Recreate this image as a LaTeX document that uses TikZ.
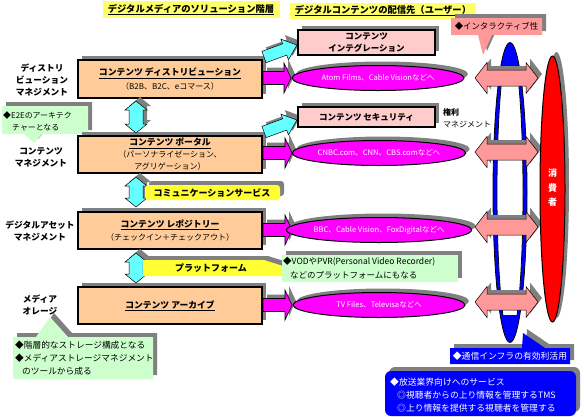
\documentclass[tikz,border=0pt]{standalone}
\usepackage{fontspec}
\setmainfont{Noto Sans CJK JP}
\usetikzlibrary{shapes.geometric,shadows}
\definecolor{shgray}{HTML}{808080}
\definecolor{peach}{HTML}{FFCC99}
\definecolor{pinkbox}{HTML}{FFCCCC}
\definecolor{salmon}{HTML}{FF9999}
\definecolor{lcyan}{HTML}{66FFFF}
\definecolor{mag}{HTML}{FF00FF}
\definecolor{lgreen}{HTML}{CCFFCC}
\definecolor{ylw}{HTML}{FFFF33}
\definecolor{ttlyel}{HTML}{FFFF66}
\definecolor{pureblue}{HTML}{0000FF}
\definecolor{purered}{HTML}{FF0000}
\newcommand\fz[2]{\fontsize{#1}{#2}\selectfont}
\newcommand\bt[1]{\underline{\fz{8.8}{12}\textbf{#1}}}
% right arrow: style, x0, xtip, y, bodyhalf, headhalf, headlen
\newcommand\RArrow[7]{\path[#1] (#2,#4-#5) -- (#3-#7,#4-#5) -- (#3-#7,#4-#6) -- (#3,#4) -- (#3-#7,#4+#6) -- (#3-#7,#4+#5) -- (#2,#4+#5) -- cycle;}
% horizontal double arrow
\newcommand\DArrow[7]{\path[#1] (#2,#4) -- (#2+#7,#4-#6) -- (#2+#7,#4-#5) -- (#3-#7,#4-#5) -- (#3-#7,#4-#6) -- (#3,#4) -- (#3-#7,#4+#6) -- (#3-#7,#4+#5) -- (#2+#7,#4+#5) -- (#2+#7,#4+#6) -- cycle;}
% vertical double arrow: style, y0, y1, x, bodyhalf, headhalf, headlen
\newcommand\VArrow[7]{\path[#1] (#4,#2) -- (#4+#6,#2+#7) -- (#4+#5,#2+#7) -- (#4+#5,#3-#7) -- (#4+#6,#3-#7) -- (#4,#3) -- (#4-#6,#3-#7) -- (#4-#5,#3-#7) -- (#4-#5,#2+#7) -- (#4-#6,#2+#7) -- cycle;}
\begin{document}
\begin{tikzpicture}[x=1pt,y=-1pt,
  shad/.style={drop shadow={shadow xshift=4pt, shadow yshift=4pt, opacity=1, fill=shgray}},
  mainbox/.style={draw=black, line width=1.4pt, fill=peach, shad, minimum width=184pt, minimum height=37pt, inner sep=0pt, align=center, font=\fz{8}{12}},
  pbox/.style={draw=black, line width=1.2pt, fill=pinkbox, shad, minimum width=137pt, inner sep=0pt, align=center, font=\fz{8.5}{12.5}\bfseries},
  mell/.style={ellipse, draw=black, line width=1pt, fill=mag, shad, minimum width=172pt, minimum height=25pt, inner sep=0pt, text=white, font=\fz{7.6}{9}},
  lbl/.style={align=center, inner sep=0pt, font=\fz{8.7}{12}\bfseries},
  ctxt/.style={anchor=west, inner sep=0pt, font=\fz{8.5}{10}},
  wtxt/.style={anchor=west, inner sep=0pt, text=white, font=\fz{8.8}{10}},
  ttl/.style={inner sep=0pt, font=\fz{9.3}{11}},
  cyarr/.style={fill=lcyan, draw=black, line width=0.5pt},
  magarr/.style={fill=mag, draw=black, line width=0.6pt, shad},
  pkarr/.style={fill=salmon, draw=black, line width=0.5pt, shad},
  greencall/.style={fill=lgreen, shad},
]
\useasboundingbox (0,0) rectangle (584,416);
\fill[white] (0,0) rectangle (584,416);

% titles
\fill[ttlyel] (103,1) rectangle (280,18);
\node[ttl] (t1) at (191,9.5) {\underline{\textbf{デジタルメディアのソリューション階層}}};
\fill[ttlyel] (290,3) rectangle (476,19);
\node[ttl] (t2) at (383,10.5) {\underline{\textbf{デジタルコンテンツの配信先（ユーザー）}}};

% left labels
\node[lbl] (l1) at (42,80) {ディストリ\\ビューション\\マネジメント};
\node[lbl] (l2) at (41,157.5) {コンテンツ\\マネジメント};
\node[lbl] (l3) at (40,231) {デジタルアセット\\マネジメント};
\node[lbl] (l4) at (40,305) {メディア\\オレージ};

% green callouts (left)
\path[greencall] (2,106) -- (88,106) -- (88,134) -- (42,134) -- (34,143) -- (24,134) -- (2,134) -- cycle;
\node[ctxt, font=\fz{7.9}{10}] (e2ea) at (3,115) {◆E2Eのアーキテク};
\node[ctxt, font=\fz{7.9}{10}] (e2eb) at (12,127.5) {チャーとなる};

\path[greencall] (13,337) -- (36,337) -- (50,317) -- (68,337) -- (153,337) -- (153,379) -- (13,379) -- cycle;
\node[ctxt, font=\fz{8.7}{10}] (sa) at (15,345) {◆階層的なストレージ構成となる};
\node[ctxt, font=\fz{8.7}{10}] (sb) at (15,358) {◆メディアストレージマネジメント};
\node[ctxt, font=\fz{8.7}{10}] (sc) at (22,371) {のツールから成る};

% main boxes
\node[mainbox, minimum height=38pt] (b1) at (170,79) {\bt{コンテンツ ディストリビューション}\\[1.5pt]（B2B、B2C、eコマース）};
\node[mainbox] (b2) at (170,154.5) {\bt{コンテンツ ポータル}\\（パーソナライゼーション、\\アグリゲーション）};
\node[mainbox] (b3) at (170,230.5) {\bt{コンテンツ レポジトリー}\\[1pt]（チェックイン＋チェックアウト）};
\node[mainbox] (b4) at (170,305.5) {\bt{コンテンツ アーカイブ}};

% vertical cyan double arrows
\VArrow{cyarr, shad}{101}{133}{136}{7}{11}{9}
\VArrow{cyarr, shad}{177}{207}{136}{7}{11}{9}
\VArrow{cyarr, shad}{253}{283}{136}{7}{11}{9}

% yellow labels
\path[fill=ylw, rounded corners=3pt, shad] (145,185) rectangle (280,200);
\node[inner sep=0pt, font=\fz{9}{10}\bfseries] (y1) at (212,192.5) {コミュニケーションサービス};
\path[fill=ylw, shad] (143,260) -- (264,260) -- (283,266) -- (283,276) -- (143,276) -- cycle;
\node[inner sep=0pt, font=\fz{9}{10}\bfseries] (y2) at (211,268.5) {プラットフォーム};

% VOD callout
\path[greencall] (282,255) rectangle (458,282);
\node[ctxt] (va) at (283,262) {◆VODやPVR(Personal Video Recorder)};
\node[ctxt] (vb) at (290,275) {などのプラットフォームにもなる};

% cyan slanted arrows (shadow + arrow)
\begin{scope}[shift={(4pt,4pt)}]
  \begin{scope}[rotate around={20:(264,57)}]\RArrow{fill=shgray}{264}{299}{57}{6}{11}{13}\end{scope}
  \begin{scope}[rotate around={20:(264,132)}]\RArrow{fill=shgray}{264}{299}{132}{6}{11}{13}\end{scope}
\end{scope}
\begin{scope}[rotate around={20:(264,57)}]\RArrow{cyarr}{264}{299}{57}{6}{11}{13}\end{scope}
\begin{scope}[rotate around={20:(264,132)}]\RArrow{cyarr}{264}{299}{132}{6}{11}{13}\end{scope}

% pink boxes
\node[pbox, minimum height=25pt] (p1) at (366.5,42.5) {コンテンツ\\インテグレーション};
\node[pbox, minimum height=20pt] (p2) at (366.5,117) {コンテンツ セキュリティ};
\node[anchor=west, align=left, inner sep=0pt, font=\fz{8}{12}] (rights) at (443,118) {\textbf{権利}\\マネジメント};

% magenta arrows
\RArrow{magarr}{263}{291}{78}{6.5}{15}{7}
\RArrow{magarr}{263}{292}{153}{6.5}{15}{7}
\RArrow{magarr}{263}{292}{230}{6.5}{15}{7}
\RArrow{magarr}{263}{292}{305}{6.5}{15}{7}

% ellipses
\node[mell] (e1) at (378,78) {Atom Films、Cable Visionなどへ};
\node[mell] (e2) at (379,153) {CNBC.com、CNN、CBS.comなどへ};
\node[mell] (e3) at (379,230) {BBC、Cable Vision、FoxDigitalなどへ};
\node[mell] (e4) at (379,305) {TV Files、Televisaなどへ};

% blue communication shape
\draw[fill=pureblue, line width=0.8pt] (510,192.5) ellipse [x radius=17pt, y radius=150pt];
\begin{scope}
  \clip (490,70) rectangle (530,314);
  \draw[fill=white, line width=0.8pt] (510,192.5) ellipse [x radius=13pt, y radius=146pt];
\end{scope}

% pink double arrows
\DArrow{pkarr}{475}{538}{78}{8}{15.5}{12}
\DArrow{pkarr}{475}{538}{152}{8}{15.5}{12}
\DArrow{pkarr}{475}{538}{227}{8}{15.5}{12}
\DArrow{pkarr}{475}{538}{302}{8}{15.5}{12}

% consumer
\node[ellipse, draw=black, line width=1pt, fill=purered, shad, minimum width=25pt, minimum height=266pt, inner sep=0pt] (cons) at (552.5,189) {};
\node[align=center, inner sep=0pt, text=white, font=\fz{9}{14.5}\bfseries] (consl) at (552.5,188) {消\\費\\者};

% interactive callout
\path[fill=salmon, shad] (451,18) -- (542,18) -- (542,35) -- (492,35) -- (483,55) -- (478,35) -- (451,35) -- cycle;
\node[inner sep=0pt, font=\fz{8.4}{10}] (inter) at (496.5,26.5) {◆インタラクティブ性};

% comm infra callout
\path[fill=pureblue, shad] (450,348) -- (522,348) -- (523,333) -- (545,348) -- (570,348) -- (570,364) -- (450,364) -- cycle;
\node[inner sep=0pt, text=white, font=\fz{8.8}{10}] (infra) at (510,356) {◆通信インフラの有効利活用};

% broadcast box
\path[fill=pureblue, rounded corners=6pt, shad] (385,371) rectangle (576,416);
\node[wtxt] (bca) at (390,382) {◆放送業界向けへのサービス};
\node[wtxt] (bcb) at (397,395.5) {◎視聴者からの上り情報を管理するTMS};
\node[wtxt] (bcc) at (397,408) {◎上り情報を提供する視聴者を管理する};
\end{tikzpicture}
\end{document}
